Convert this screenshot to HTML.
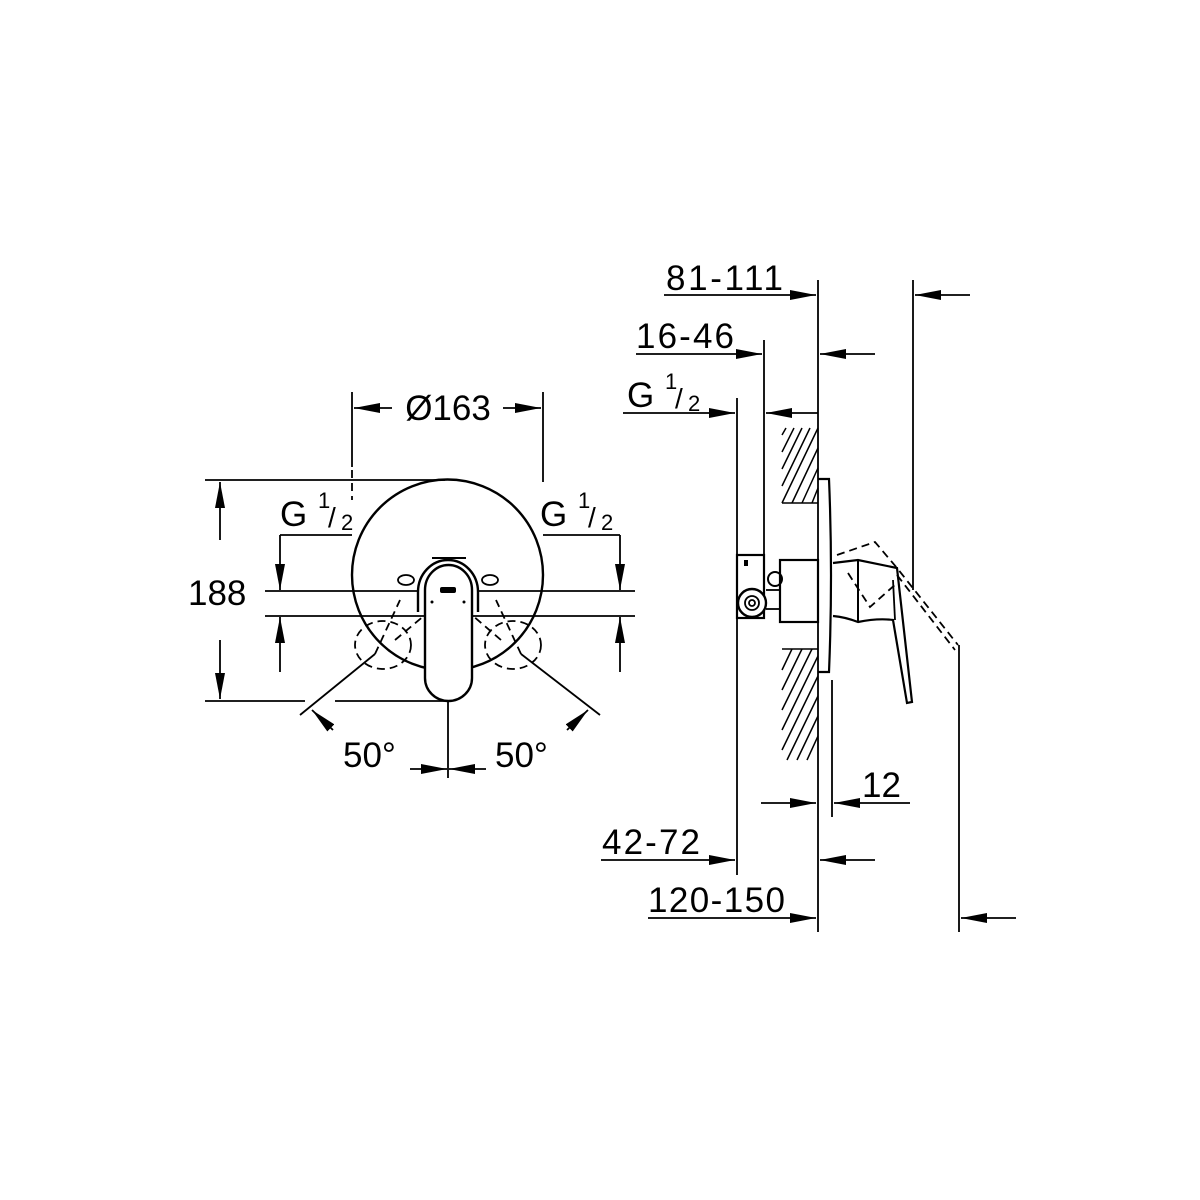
<!DOCTYPE html>
<html><head><meta charset="utf-8"><style>html,body{margin:0;padding:0;background:#fff}svg{display:block}</style></head><body>
<svg width="1200" height="1200" viewBox="0 0 1200 1200" xmlns="http://www.w3.org/2000/svg" font-family="Liberation Sans, sans-serif" fill="none" stroke="#000" stroke-width="1.8">
<defs>
<marker id="a" markerWidth="26" markerHeight="10" refX="26" refY="5" orient="auto" markerUnits="userSpaceOnUse"><path d="M0,0 L26,5 L0,10z" fill="#000" stroke="none"/></marker>
</defs>
<!-- LEFT VIEW -->
<circle cx="447.5" cy="575" r="95.5" stroke-width="2.4"/>
<line x1="205" y1="480" x2="445" y2="480"/>
<line x1="205" y1="701" x2="305" y2="701"/><line x1="335" y1="701" x2="448" y2="701"/>
<line x1="220" y1="540" x2="220" y2="482" marker-end="url(#a)"/>
<line x1="220" y1="640" x2="220" y2="699" marker-end="url(#a)"/>
<text x="188" y="605" font-size="35" fill="#000" stroke="none">188</text>
<line x1="352" y1="392" x2="352" y2="467"/><line x1="352" y1="470" x2="352" y2="500" stroke-dasharray="8,5"/>
<line x1="543" y1="392" x2="543" y2="482"/>
<line x1="392" y1="408" x2="354" y2="408" marker-end="url(#a)"/>
<line x1="503" y1="408" x2="541" y2="408" marker-end="url(#a)"/>
<text x="448" y="420" font-size="35" text-anchor="middle" fill="#000" stroke="none">Ø163</text>
<line x1="280" y1="535" x2="352" y2="535"/>
<line x1="280" y1="535" x2="280" y2="590" marker-end="url(#a)"/>
<line x1="280" y1="672" x2="280" y2="617" marker-end="url(#a)"/>
<line x1="620" y1="535" x2="543" y2="535"/>
<line x1="620" y1="535" x2="620" y2="590" marker-end="url(#a)"/>
<line x1="620" y1="672" x2="620" y2="617" marker-end="url(#a)"/>
<line x1="265" y1="591" x2="418" y2="591"/><line x1="478" y1="591" x2="635" y2="591"/>
<line x1="265" y1="616" x2="425" y2="616"/><line x1="472" y1="616" x2="635" y2="616"/>
<text x="280" y="526" font-size="35" fill="#000" stroke="none">G</text>
<text x="318" y="508" font-size="22" fill="#000" stroke="none">1</text>
<text x="328" y="527" font-size="28" fill="#000" stroke="none">/</text>
<text x="341" y="530" font-size="22" fill="#000" stroke="none">2</text>
<text x="540" y="526" font-size="35" fill="#000" stroke="none">G</text>
<text x="578" y="508" font-size="22" fill="#000" stroke="none">1</text>
<text x="588" y="527" font-size="28" fill="#000" stroke="none">/</text>
<text x="601" y="530" font-size="22" fill="#000" stroke="none">2</text>
<path d="M418,612 L418,592 A30,32 0 0 1 478,592 L478,612" stroke-width="2.4"/>
<path d="M432,558 L466,558" stroke-width="2"/>
<ellipse cx="406" cy="580" rx="8" ry="5"/><ellipse cx="490" cy="580" rx="8" ry="5"/>
<path d="M425,678 L425,590 A23.5,25 0 0 1 472,590 L472,678 A23.5,23 0 0 1 425,678 Z" fill="#fff" stroke-width="2.4"/>
<rect x="440" y="587" width="16" height="6" rx="2" fill="#000" stroke="none"/>
<circle cx="432" cy="602" r="1.5" fill="#000" stroke="none"/><circle cx="464" cy="602" r="1.5" fill="#000" stroke="none"/>
<ellipse cx="383" cy="645" rx="28" ry="24" stroke-dasharray="8,5"/>
<ellipse cx="513" cy="645" rx="28" ry="24" stroke-dasharray="8,5"/>
<line x1="300" y1="715" x2="375" y2="654"/><line x1="375" y1="654" x2="400" y2="600" stroke-dasharray="8,5"/>
<line x1="395" y1="640" x2="425" y2="615" stroke-dasharray="8,5"/>
<line x1="600" y1="715" x2="521" y2="654"/><line x1="521" y1="654" x2="496" y2="600" stroke-dasharray="8,5"/>
<line x1="501" y1="640" x2="472" y2="615" stroke-dasharray="8,5"/>
<line x1="333" y1="730" x2="312" y2="710" marker-end="url(#a)"/>
<line x1="567" y1="730" x2="588" y2="710" marker-end="url(#a)"/>
<line x1="448" y1="701" x2="448" y2="778"/>
<line x1="410" y1="769" x2="447" y2="769" marker-end="url(#a)"/>
<line x1="486" y1="769" x2="449" y2="769" marker-end="url(#a)"/>
<text x="343" y="767" font-size="35" fill="#000" stroke="none">50°</text>
<text x="495" y="767" font-size="35" fill="#000" stroke="none">50°</text>

<!-- RIGHT VIEW -->
<line x1="818" y1="280" x2="818" y2="932"/>
<line x1="913" y1="280" x2="913" y2="590"/>
<line x1="959" y1="645" x2="959" y2="932"/>
<line x1="664" y1="295" x2="816" y2="295" marker-end="url(#a)"/>
<line x1="970" y1="295" x2="915" y2="295" marker-end="url(#a)"/>
<text x="666" y="290" font-size="35" fill="#000" stroke="none" textLength="117">81-111</text>
<line x1="764" y1="340" x2="764" y2="560"/>
<line x1="636" y1="354" x2="762" y2="354" marker-end="url(#a)"/>
<line x1="875" y1="354" x2="820" y2="354" marker-end="url(#a)"/>
<text x="636" y="348" font-size="35" fill="#000" stroke="none" textLength="98">16-46</text>
<line x1="737" y1="398" x2="737" y2="875"/>
<line x1="623" y1="413" x2="735" y2="413" marker-end="url(#a)"/>
<line x1="818" y1="413" x2="766" y2="413" marker-end="url(#a)"/>
<text x="627" y="407" font-size="35" fill="#000" stroke="none">G</text>
<text x="665" y="389" font-size="22" fill="#000" stroke="none">1</text>
<text x="675" y="408" font-size="28" fill="#000" stroke="none">/</text>
<text x="688" y="411" font-size="22" fill="#000" stroke="none">2</text>
<g stroke-width="1.5">
<line x1="782" y1="503" x2="818" y2="428"/>
<line x1="782" y1="486" x2="810" y2="428"/><line x1="782" y1="469" x2="802" y2="428"/><line x1="782" y1="452" x2="794" y2="428"/><line x1="782" y1="435" x2="786" y2="428"/>
<line x1="792" y1="503" x2="818" y2="448"/><line x1="802" y1="503" x2="818" y2="468"/><line x1="812" y1="503" x2="818" y2="488"/>
<line x1="782" y1="503" x2="818" y2="503"/>
<line x1="782" y1="649" x2="818" y2="649"/>
<line x1="782" y1="670" x2="792" y2="649"/><line x1="782" y1="690" x2="802" y2="649"/><line x1="782" y1="710" x2="812" y2="649"/>
<line x1="782" y1="730" x2="818" y2="656"/><line x1="782" y1="750" x2="818" y2="676"/><line x1="787" y1="760" x2="818" y2="696"/>
<line x1="797" y1="760" x2="818" y2="716"/><line x1="807" y1="760" x2="818" y2="736"/>
</g>
<path d="M818,479 L829,479 Q833,575 829,672 L818,672" stroke-width="2.2"/>
<line x1="832" y1="680" x2="832" y2="817"/>
<rect x="737" y="555" width="27" height="63" stroke-width="2.2"/>
<rect x="744" y="560" width="4" height="6" fill="#000" stroke="none"/>
<circle cx="752" cy="603" r="14" fill="#fff" stroke-width="2.4"/>
<circle cx="752" cy="603" r="7"/><circle cx="752" cy="603" r="3"/>
<circle cx="775" cy="579" r="7" stroke-width="2"/>
<line x1="766" y1="590" x2="780" y2="590"/><line x1="766" y1="609" x2="780" y2="609"/>
<rect x="780" y="560" width="38" height="62" stroke-width="2.2"/>
<path d="M833,563 L858,560 L897,568 L912,702 L907,703 L893,620 Q878,618 858,622 Q845,617 833,616" stroke-width="2.2"/>
<line x1="858" y1="560" x2="858" y2="622" stroke-width="2"/>
<line x1="893" y1="580" x2="895" y2="620"/>
<g stroke-dasharray="8,5">
<path d="M837,555 L875,542 L897,568 L958,645"/>
<path d="M897,575 L955,650"/>
<path d="M848,573 L870,607 L897,583"/>
</g>
<line x1="761" y1="803" x2="816" y2="803" marker-end="url(#a)"/>
<line x1="910" y1="803" x2="834" y2="803" marker-end="url(#a)"/>
<text x="862" y="797" font-size="35" fill="#000" stroke="none">12</text>
<line x1="601" y1="860" x2="735" y2="860" marker-end="url(#a)"/>
<line x1="875" y1="860" x2="820" y2="860" marker-end="url(#a)"/>
<text x="602" y="854" font-size="35" fill="#000" stroke="none" textLength="98">42-72</text>
<line x1="648" y1="918" x2="816" y2="918" marker-end="url(#a)"/>
<line x1="1016" y1="918" x2="961" y2="918" marker-end="url(#a)"/>
<text x="648" y="912" font-size="35" fill="#000" stroke="none" textLength="137">120-150</text>
</svg>
</body></html>
